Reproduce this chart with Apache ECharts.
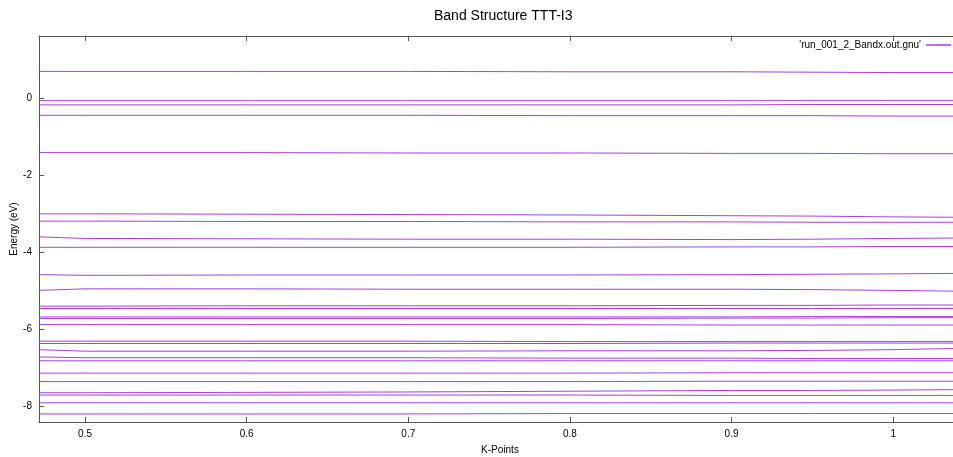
<!DOCTYPE html>
<html>
<head>
<meta charset="utf-8">
<script src="https://cdn.jsdelivr.net/npm/echarts@6/dist/echarts.min.js"></script>
<style>
  html, body { margin: 0; padding: 0; background: #ffffff; }
  #chart { width: 953px; height: 457px; }
</style>
</head>
<body>
<div id="chart"></div>
<script>
// ---- data ----
const chartTitle = 'Band Structure TTT-I3';
const seriesName = "'run_001_2_Bandx.out.gnu'";
const xTickValues = [0.5, 0.6, 0.7, 0.8, 0.9, 1.0];
const yTickValues = [-8, -6, -4, -2, 0];
const kPoints = [0.4715, 0.5, 0.6, 0.7, 0.8, 0.9, 0.95, 1.0, 1.037];

const band01 = [0.71, 0.71, 0.71, 0.71, 0.70, 0.70, 0.69, 0.68, 0.68];
const band02 = [-0.05, -0.05, -0.05, -0.05, -0.05, -0.05, -0.05, -0.05, -0.05];
const band03 = [-0.16, -0.16, -0.16, -0.16, -0.16, -0.16, -0.15, -0.15, -0.15];
const band04 = [-0.43, -0.43, -0.43, -0.43, -0.44, -0.44, -0.44, -0.45, -0.45];
const band05 = [-1.40, -1.40, -1.40, -1.41, -1.41, -1.42, -1.42, -1.43, -1.43];
const band06 = [-2.99, -2.99, -3.00, -3.01, -3.02, -3.04, -3.05, -3.07, -3.08];
const band07 = [-3.18, -3.18, -3.19, -3.19, -3.20, -3.20, -3.21, -3.21, -3.21];
const band08 = [-3.59, -3.63, -3.64, -3.65, -3.65, -3.66, -3.65, -3.63, -3.62];
const band09 = [-3.86, -3.86, -3.86, -3.86, -3.86, -3.85, -3.85, -3.84, -3.84];
const band10 = [-4.57, -4.59, -4.58, -4.58, -4.58, -4.57, -4.56, -4.55, -4.54];
const band11 = [-4.98, -4.94, -4.94, -4.95, -4.95, -4.95, -4.96, -4.98, -5.00];
const band12 = [-5.39, -5.39, -5.38, -5.38, -5.38, -5.37, -5.37, -5.36, -5.36];
const band13 = [-5.45, -5.45, -5.45, -5.45, -5.45, -5.45, -5.45, -5.45, -5.45];
const band14 = [-5.67, -5.67, -5.67, -5.67, -5.67, -5.67, -5.66, -5.66, -5.66];
const band15 = [-5.71, -5.71, -5.71, -5.71, -5.71, -5.70, -5.70, -5.69, -5.69];
const band16 = [-5.87, -5.87, -5.87, -5.87, -5.87, -5.88, -5.88, -5.88, -5.88];
const band17 = [-6.30, -6.30, -6.30, -6.30, -6.31, -6.31, -6.31, -6.31, -6.31];
const band18 = [-6.36, -6.36, -6.36, -6.36, -6.36, -6.35, -6.35, -6.35, -6.35];
const band19 = [-6.52, -6.56, -6.56, -6.56, -6.55, -6.55, -6.54, -6.52, -6.49];
const band20 = [-6.71, -6.73, -6.73, -6.73, -6.74, -6.74, -6.75, -6.75, -6.75];
const band21 = [-6.81, -6.81, -6.81, -6.81, -6.81, -6.81, -6.81, -6.81, -6.81];
const band22 = [-7.13, -7.13, -7.13, -7.13, -7.13, -7.12, -7.12, -7.12, -7.12];
const band23 = [-7.35, -7.35, -7.35, -7.35, -7.35, -7.34, -7.34, -7.34, -7.34];
const band24 = [-7.64, -7.64, -7.63, -7.62, -7.60, -7.58, -7.58, -7.57, -7.56];
const band25 = [-7.70, -7.70, -7.70, -7.70, -7.70, -7.71, -7.71, -7.71, -7.71];
const band26 = [-7.90, -7.90, -7.90, -7.90, -7.90, -7.90, -7.90, -7.90, -7.90];
const band27 = [-8.19, -8.19, -8.19, -8.19, -8.18, -8.18, -8.18, -8.18, -8.18];

const bands = [band01, band02, band03, band04, band05, band06, band07, band08, band09,
  band10, band11, band12, band13, band14, band15, band16, band17, band18, band19,
  band20, band21, band22, band23, band24, band25, band26, band27];

// ---- chart ----
const lineColor = '#a83fe0';
const axisColor = '#555555';
const fontFamily = 'Liberation Sans, Arial, sans-serif';

const series = bands.map(b => ({
  name: seriesName,
  type: 'line',
  showSymbol: false,
  symbol: 'none',
  silent: true,
  animation: false,
  xAxisIndex: 0,
  yAxisIndex: 0,
  lineStyle: { color: lineColor, width: 1 },
  itemStyle: { color: lineColor },
  data: kPoints.map((k, i) => [k, b[i]])
}));

const chart = echarts.init(document.getElementById('chart'), null, { renderer: 'canvas' });
chart.setOption({
  backgroundColor: '#ffffff',
  animation: false,
  title: {
    text: chartTitle,
    left: 429,
    top: 4,
    textStyle: { fontFamily, fontSize: 14, fontWeight: 'normal', color: '#000000' }
  },
  legend: {
    data: [seriesName],
    right: 2,
    top: 40,
    padding: 0,
    align: 'right',
    icon: 'rect',
    itemWidth: 25,
    itemHeight: 1.5,
    itemGap: 6,
    textStyle: { fontFamily, fontSize: 10, color: '#000000' }
  },
  grid: { left: 39, right: 0, top: 36, bottom: 35, show: false, containLabel: false, outerBoundsMode: 'none' },
  xAxis: [{
    type: 'value',
    position: 'bottom',
    min: 0.4715,
    max: 1.037,
    name: 'K-Points',
    nameLocation: 'middle',
    nameGap: 23,
    nameMoveOverlap: false,
    nameTextStyle: { fontFamily, fontSize: 10, color: '#000000', padding: [0, 0, 0, 8] },
    axisLine: { show: true, onZero: false, lineStyle: { color: axisColor, width: 1 } },
    axisTick: { show: true, inside: true, length: 5, customValues: xTickValues, lineStyle: { color: axisColor } },
    axisLabel: { show: true, customValues: xTickValues, margin: 7, fontFamily, fontSize: 10, color: '#000000',
      formatter: v => String(Math.round(v * 10) / 10) },
    splitLine: { show: false }
  }, {
    type: 'value',
    position: 'top',
    min: 0.4715,
    max: 1.037,
    axisLine: { show: true, onZero: false, lineStyle: { color: axisColor, width: 1 } },
    axisTick: { show: true, inside: true, length: 5, customValues: xTickValues, lineStyle: { color: axisColor } },
    axisLabel: { show: false },
    splitLine: { show: false }
  }],
  yAxis: [{
    type: 'value',
    min: -8.40,
    max: 1.63,
    name: 'Energy (eV)',
    nameLocation: 'middle',
    nameGap: 20,
    nameMoveOverlap: false,
    nameRotate: 90,
    nameTextStyle: { fontFamily, fontSize: 10, color: '#000000' },
    axisLine: { show: true, onZero: false, lineStyle: { color: axisColor, width: 1 } },
    axisTick: { show: true, inside: true, length: 5, customValues: yTickValues, lineStyle: { color: axisColor } },
    axisLabel: { show: true, customValues: yTickValues, margin: 7, fontFamily, fontSize: 10, color: '#000000' },
    splitLine: { show: false }
  }],
  series
});
</script>
</body>
</html>
